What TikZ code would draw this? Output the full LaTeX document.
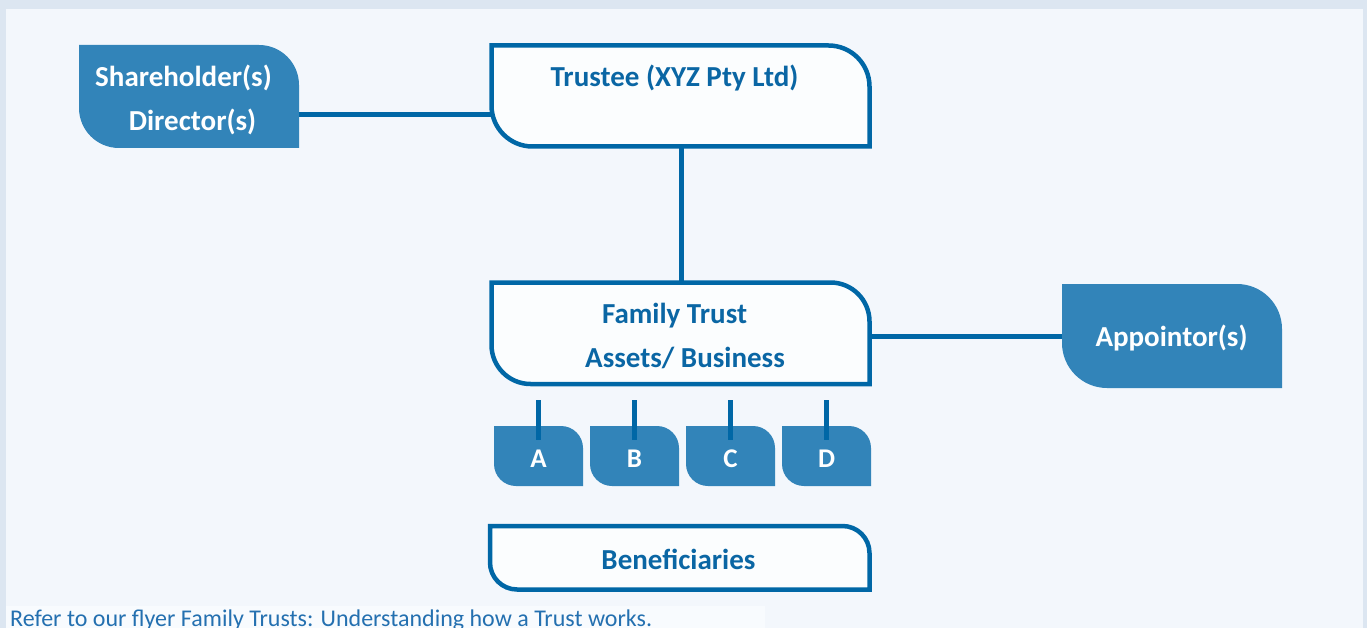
\documentclass[tikz,border=0pt]{standalone}
\usepackage{fontspec}
\setmainfont{Carlito}
\pgfdeclarelayer{back}
\pgfdeclarelayer{shapes}
\pgfsetlayers{back,shapes,main}

\definecolor{pagebg}{HTML}{DCE6F1}
\definecolor{panelbg}{HTML}{F3F7FC}
\definecolor{notebg}{HTML}{F8FBFE}
\definecolor{boxfill}{HTML}{3284B9}
\definecolor{linecol}{HTML}{0067A6}
\definecolor{textcol}{HTML}{0A66A4}
\definecolor{notecol}{HTML}{2470B0}

% box with rounded top-right and bottom-left corners, drawn behind its node
\newcommand\diagcorner[3]{%
  \begin{pgfonlayer}{shapes}
  \path[#3] (#1.north west) -- ([xshift=-#2]#1.north east)
    arc[start angle=90,end angle=0,radius=#2] -- (#1.south east)
    -- ([xshift=#2]#1.south west)
    arc[start angle=270,end angle=180,radius=#2] -- cycle;
  \end{pgfonlayer}}

\tikzset{
  x=1pt, y=-1pt,
  frame/.style={inner sep=0pt, outer sep=0pt, anchor=north west},
  solidshape/.style={fill=boxfill},
  outlineshape/.style={fill=white!70!panelbg, draw=linecol, line width=4.5pt},
  whitetext/.style={text=white, font=\bfseries\fontsize{29}{44}\selectfont, align=center},
  bluetext/.style={text=textcol, font=\bfseries\fontsize{29}{44}\selectfont, align=center},
  lettertext/.style={text=white, font=\bfseries\fontsize{27}{30}\selectfont},
  link/.style={draw=linecol, line width=4.5pt},
  tick/.style={draw=linecol, line width=5pt},
}

\begin{document}
\begin{tikzpicture}
  % page and panel
  \begin{pgfonlayer}{back}
  \fill[pagebg] (0,0) rectangle (1367,628);
  \fill[panelbg] (6,9) rectangle (1363,628);
  \fill[notebg] (6,606) rectangle (765,628);
  \end{pgfonlayer}
  \useasboundingbox (0,0) rectangle (1367,628);

  % filled boxes
  \node[frame, minimum width=220pt, minimum height=103pt] (share) at (79,45) {};
  \diagcorner{share}{40pt}{solidshape}
  \node[whitetext] (shareText) at (188,100) {Shareholder(s)\hspace*{9pt}\\\hspace*{9pt}Director(s)};

  \node[frame, minimum width=220pt, minimum height=104pt] (appoint) at (1062,284) {};
  \diagcorner{appoint}{45pt}{solidshape}
  \node[whitetext] (appointText) at (1171.5,338) {Appointor(s)};

  % outlined boxes
  \node[frame, minimum width=378pt, minimum height=101pt] (trustee) at (491.5,45.5) {};
  \diagcorner{trustee}{41pt}{outlineshape}
  \node[bluetext] (trusteeText) at (674.5,78) {Trustee (XYZ Pty Ltd)};

  \node[frame, minimum width=378pt, minimum height=101.5pt] (family) at (491.5,282.5) {};
  \diagcorner{family}{39pt}{outlineshape}
  \node[bluetext] (familyText) at (680,336) {\hspace*{-11pt}Family Trust\\\hspace*{10pt}Assets/ Business};

  \node[frame, minimum width=379.5pt, minimum height=63.5pt] (benef) at (490,526) {};
  \diagcorner{benef}{27pt}{outlineshape}
  \node[bluetext] (benefText) at (678.5,559) {Beneficiaries};

  % beneficiary classes A-D
  \foreach \name/\xx in {A/494, B/590, C/686, D/782} {
    \node[frame, minimum width=89pt, minimum height=60pt] (\name) at (\xx,426) {};
    \diagcorner{\name}{22pt}{solidshape}
    \node[lettertext] (\name text) at ([yshift=-3pt]\name.center) {\name};
    \coordinate (\name top) at ([yshift=26pt]\name.north);
    \draw[tick] (\name top) -- ([yshift=-14pt]\name.north);
  }

  % links between parties
  \draw[link] (share.east |- 0,114.5) -- (trustee.west |- 0,114.5);
  \draw[link] (trustee.south -| 681.5,0) -- (family.north -| 681.5,0);
  \draw[link] (family.east |- 0,336.5) -- (appoint.west |- 0,336.5);

  % footnote
  \node[anchor=base west, inner sep=0pt, text=notecol, font=\fontsize{24}{28}\selectfont] (note) at (10,626)
    {Refer to our flyer Family Trusts: Understanding how a Trust works.};
\end{tikzpicture}
\end{document}
